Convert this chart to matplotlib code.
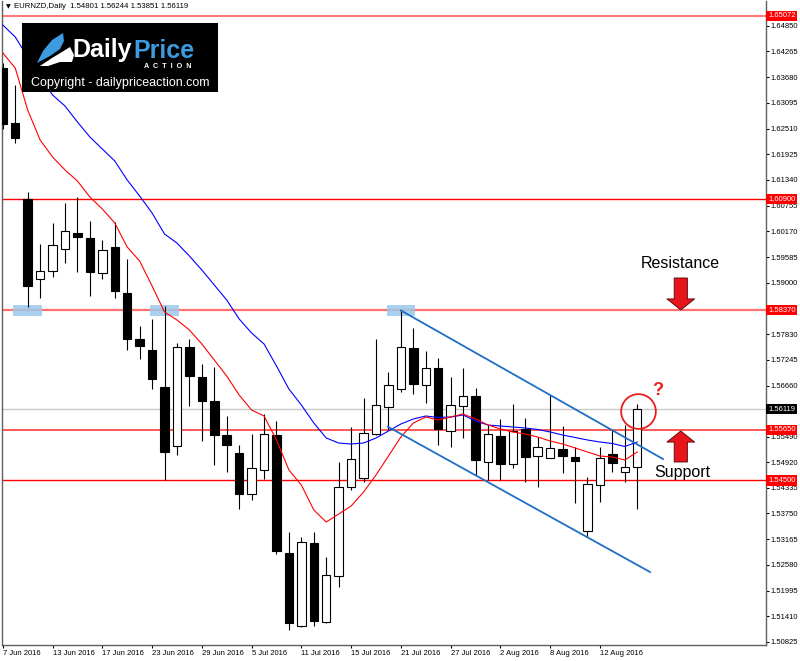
import matplotlib
matplotlib.use('Agg')
import matplotlib.pyplot as plt
import matplotlib.transforms as mtransforms
from matplotlib.patches import Rectangle, Polygon

plt.rcParams['font.family'] = ['Liberation Sans', 'DejaVu Sans']

# daily EURNZD candles, 7 Jun 2016 .. 17 Aug 2016
opens = [1.63895, 1.62637, 1.60900, 1.59079, 1.59261, 1.59776, 1.60133, 1.60012,
         1.59215, 1.59808, 1.58760, 1.57720, 1.57463, 1.56628, 1.55285, 1.57545,
         1.56849, 1.56309, 1.55542, 1.55119, 1.54186, 1.54746, 1.55535, 1.52850,
         1.51182, 1.53077, 1.51273, 1.52326, 1.54345, 1.54550, 1.55558, 1.56180,
         1.56575, 1.57509, 1.56673, 1.57067, 1.55633, 1.56196, 1.56423, 1.54928,
         1.55512, 1.54868, 1.55665, 1.55065, 1.55005, 1.55217, 1.55028, 1.53351,
         1.54397, 1.55096, 1.54687, 1.54801]
highs = [1.64000, 1.63501, 1.61059, 1.59876, 1.60354, 1.60809, 1.60945, 1.60413,
         1.59974, 1.60390, 1.59541, 1.58016, 1.58176, 1.58478, 1.57622, 1.57720,
         1.57145, 1.57090, 1.55968, 1.55315, 1.55551, 1.56007, 1.55854, 1.53328,
         1.53207, 1.53321, 1.52766, 1.54927, 1.55724, 1.56371, 1.57720, 1.56976,
         1.58370, 1.57978, 1.57447, 1.57281, 1.56849, 1.57054, 1.56598, 1.55763,
         1.55893, 1.56234, 1.55929, 1.55497, 1.56446, 1.55740, 1.55255, 1.54587,
         1.55269, 1.55649, 1.55763, 1.56244]
lows = [1.62500, 1.62181, 1.58456, 1.58660, 1.59138, 1.59457, 1.59252, 1.58706,
        1.59079, 1.58660, 1.57470, 1.57258, 1.56582, 1.54511, 1.55080, 1.56196,
        1.55406, 1.54853, 1.54687, 1.53858, 1.54056, 1.54534, 1.52827, 1.51098,
        1.51166, 1.51188, 1.51250, 1.52069, 1.54284, 1.54473, 1.55535, 1.55649,
        1.56521, 1.56462, 1.56270, 1.55308, 1.55269, 1.55474, 1.54625, 1.54511,
        1.54511, 1.54778, 1.54473, 1.54345, 1.55005, 1.54678, 1.53981, 1.53221,
        1.54004, 1.54700, 1.54473, 1.53851]
closes = [1.62607, 1.62295, 1.58927, 1.59261, 1.59867, 1.60179, 1.60035, 1.59238,
          1.59746, 1.58806, 1.57720, 1.57561, 1.56803, 1.55155, 1.57545, 1.56885,
          1.56302, 1.55542, 1.55315, 1.54193, 1.54778, 1.55565, 1.52902, 1.51250,
          1.53094, 1.51309, 1.52349, 1.54359, 1.54989, 1.55574, 1.56211, 1.56673,
          1.57531, 1.56689, 1.57054, 1.55665, 1.56218, 1.56430, 1.54966, 1.55551,
          1.54875, 1.55633, 1.55042, 1.55255, 1.55239, 1.55065, 1.54937, 1.54413,
          1.55005, 1.54891, 1.54800, 1.56119]

# moving averages as drawn on the chart
ma_fast = [1.64230, 1.63888, 1.62932, 1.62250, 1.61863, 1.61567, 1.61316, 1.60952,
           1.60679, 1.60361, 1.59814, 1.59496, 1.58927, 1.58335, 1.58153, 1.57925,
           1.57607, 1.57242, 1.56878, 1.56446, 1.56104, 1.55968, 1.55422, 1.54739,
           1.54397, 1.53828, 1.53555, 1.53737, 1.53919, 1.54238, 1.54625, 1.55057,
           1.55490, 1.55809, 1.55945, 1.55877, 1.55945, 1.56013, 1.55900, 1.55763,
           1.55672, 1.55604, 1.55558, 1.55490, 1.55399, 1.55331, 1.55240, 1.55149,
           1.55057, 1.55035, 1.54966, 1.55149]
ma_slow = [1.64867, 1.64594, 1.64139, 1.63684, 1.63274, 1.63023, 1.62659, 1.62318,
           1.62045, 1.61772, 1.61339, 1.60975, 1.60588, 1.60110, 1.59905, 1.59609,
           1.59291, 1.58949, 1.58608, 1.58176, 1.57857, 1.57607, 1.57106, 1.56582,
           1.56218, 1.55809, 1.55467, 1.55353, 1.55331, 1.55353, 1.55467, 1.55626,
           1.55786, 1.55900, 1.55968, 1.55934, 1.55945, 1.55991, 1.55854, 1.55763,
           1.55740, 1.55718, 1.55695, 1.55661, 1.55604, 1.55535, 1.55479, 1.55422,
           1.55376, 1.55342, 1.55274, 1.55376]

levels = [1.65072, 1.60900, 1.58370, 1.55650, 1.54500]
level_colors = ['#ff7878', '#ff0000', '#ff7070', '#ff2a2a', '#ff0000']
level_widths = [1.5, 1.0, 1.6, 1.1, 1.0]
last_price = 1.56119

price_ticks = [1.64850, 1.64265, 1.63680, 1.63095, 1.62510, 1.61925, 1.61340,
               1.60755, 1.60170, 1.59585, 1.59000, 1.57830, 1.57245, 1.56660,
               1.55490, 1.54920, 1.54335, 1.53750, 1.53165, 1.52580, 1.51995,
               1.51410, 1.50825]
date_ticks = [0, 4, 8, 12, 16, 20, 24, 28, 32, 36, 40, 44, 48]
date_labels = ['7 Jun 2016', '13 Jun 2016', '17 Jun 2016', '23 Jun 2016',
               '29 Jun 2016', '5 Jul 2016', '11 Jul 2016', '15 Jul 2016',
               '21 Jul 2016', '27 Jul 2016', '2 Aug 2016', '8 Aug 2016',
               '12 Aug 2016']

# touches of resistance and the descending channel
touch_bars = [2, 13, 32]
channel_top = ([32, 53.07], [1.58370, 1.54989])
channel_bottom = ([30.96, 52.03], [1.55724, 1.52417])

fig = plt.figure(figsize=(8, 6.61), dpi=100)
ax = fig.add_axes([2 / 800, 16 / 661, 764 / 800, 644 / 661])
ax.set_xlim(-0.064, 61.35)
ax.set_ylim(1.50756, 1.65413)

for lvl, col, lw in zip(levels, level_colors, level_widths):
    ax.axhline(lvl, color=col, lw=lw, zorder=1)
ax.axhline(last_price, color='#c8c8c8', lw=1, zorder=1)

for b in touch_bars:
    ax.add_patch(Rectangle((b - 1.15, levels[2] - 0.00135), 2.3, 0.0027,
                           fc='#9cc8ea', ec='none', alpha=0.85, zorder=2))

n = len(opens)
idx = list(range(n))
ax.vlines(idx, lows, highs, color='black', lw=0.8, zorder=3)
for i in idx:
    o, c = opens[i], closes[i]
    up = c >= o
    ax.bar(i, max(abs(c - o), 0.00008), bottom=min(o, c), width=0.68,
           color='white' if up else 'black', edgecolor='black', lw=0.8, zorder=4)

ax.plot(idx, ma_slow, color='#0000ff', lw=0.8, zorder=5)
ax.plot(idx, ma_fast, color='#ff0000', lw=0.8, zorder=5)

ax.plot(*channel_top, color='#1f6fc5', lw=1.3, zorder=6)
ax.plot(*channel_bottom, color='#1f6fc5', lw=1.3, zorder=6)

# circle round the last candle, and the labels
ax.plot(n - 1 + 0.06, 1.56082, 'o', ms=25, mfc='none', mec='#e61e1e', mew=1.3, zorder=7)
ax.text(52.67, 1.56537, '?', color='#e61e1e', fontsize=13, fontweight='bold',
        ha='center', va='center', zorder=7)
ax.text(54.44, 1.59450, 'Resistance', fontsize=11.5, ha='center', va='center')
ax.text(54.6, 1.54671, 'Support', fontsize=11.5, ha='center', va='center')
arrow = dict(arrowstyle='simple,head_length=0.8,head_width=2.0,tail_width=0.95',
             fc='#e8141c', ec='#4a0808', lw=0.6, mutation_scale=10,
             shrinkA=0, shrinkB=0)
ax.annotate('', xy=(54.5, 1.58380), xytext=(54.5, 1.59109), arrowprops=arrow)
ax.annotate('', xy=(54.5, 1.55627), xytext=(54.5, 1.54921), arrowprops=arrow)

# axes styling
for s in ['left', 'bottom', 'right']:
    ax.spines[s].set_color('#606060')
    ax.spines[s].set_linewidth(1)
ax.spines['top'].set_visible(False)
ax.yaxis.tick_right()
ax.set_yticks(price_ticks)
ax.set_yticklabels(['%.5f' % t for t in price_ticks])
ax.tick_params(axis='y', length=2, pad=1.5, labelsize=5.5, colors='black')
ax.set_xticks(date_ticks)
ax.set_xticklabels(date_labels, ha='left')
ax.tick_params(axis='x', length=2.5, pad=1, labelsize=5.5)

blend = mtransforms.blended_transform_factory(ax.transAxes, ax.transData)
for lvl in levels:
    ax.text(1.0026, lvl, '%.5f' % lvl, transform=blend, ha='left', va='center',
            fontsize=5.5, color='white', clip_on=False,
            bbox=dict(boxstyle='square,pad=0.2', fc='#ff0000', ec='none'))
ax.text(1.0026, last_price, '%.5f' % last_price, transform=blend, ha='left',
        va='center', fontsize=5.5, color='white', clip_on=False,
        bbox=dict(boxstyle='square,pad=0.2', fc='black', ec='none'))

title = 'EURNZD,Daily  %.5f %.5f %.5f %.5f' % (opens[-1], highs[-1], lows[-1], closes[-1])
fig.text(6 / 800, 1 - 7 / 661, '\u25bc', fontsize=4.5, va='center', family='DejaVu Sans')
fig.text(14 / 800, 1 - 7 / 661, title, fontsize=5.6, va='center')

# logo box
lax = fig.add_axes([22 / 800, 1 - 92 / 661, 196 / 800, 69 / 661])
lax.set_xlim(0, 196)
lax.set_ylim(69, 0)
lax.axis('off')
lax.add_patch(Rectangle((0, 0), 196, 69, fc='black', ec='none'))
lax.add_patch(Polygon([(15, 40), (21, 28), (30, 17), (41, 10), (42, 18), (38, 26), (28, 33)],
                      fc='#3d9be0', ec='none'))
lax.add_patch(Polygon([(18, 43), (30, 35), (40, 29), (48, 24), (52, 32), (50, 39), (38, 39), (26, 43)],
                      fc='white', ec='none'))
lax.text(50, 34.5, 'Daily', color='white', fontsize=18, fontweight='bold', va='baseline')
lax.text(111, 34.5, 'Price', color='#3d9be0', fontsize=18, fontweight='bold', va='baseline')
lax.text(146, 43.5, 'A  C  T  I  O  N', color='white', fontsize=5.2, fontweight='bold',
         ha='center', va='center')
lax.text(8.7, 63, 'Copyright - dailypriceaction.com', color='white', fontsize=9,
         va='baseline')

fig.savefig('out.png', dpi=100)
